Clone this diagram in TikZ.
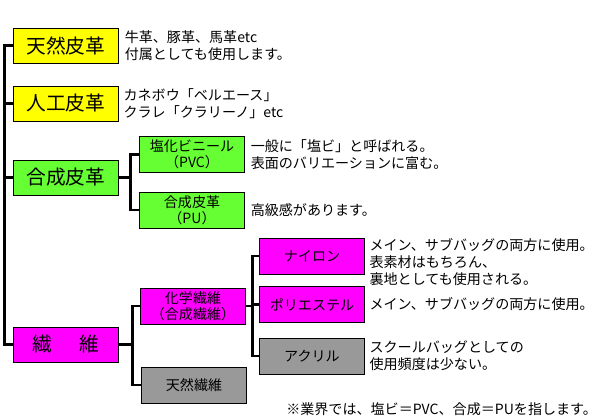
\documentclass[tikz,border=0pt]{standalone}
\usepackage{fontspec}
\setmainfont{Noto Sans CJK JP}
\usetikzlibrary{positioning}
\definecolor{natyellow}{HTML}{FFFF00}
\definecolor{synthgreen}{HTML}{66FF33}
\definecolor{fibermagenta}{HTML}{FF00FF}
\definecolor{othergray}{HTML}{999999}
\begin{document}
\begin{tikzpicture}[
  x=0.025cm, y=-0.025cm,
  every node/.style={inner sep=0pt},
  box/.style={draw, line width=0.7pt, minimum width=2.6cm, minimum height=0.9cm,
    align=center, font=\fontsize{10}{11.5}\selectfont},
  bigbox/.style={box, minimum height=0.875cm, font=\fontsize{14}{16}\selectfont},
  yellow/.style={fill=natyellow},
  green/.style={fill=synthgreen},
  magenta/.style={fill=fibermagenta},
  gray/.style={fill=othergray},
  desc/.style={align=left, font=\fontsize{10}{12}\selectfont},
  bus/.style={line width=2pt}
]
\useasboundingbox (0,0) rectangle (600,420);

% first level
\node[bigbox, yellow] (tennen) at (66,45.5) {天然皮革};
\node[bigbox, yellow] (jinko) at (66,103.5) {人工皮革};
\node[bigbox, green] (gosei) at (66,177.5) {合成皮革};
\node[bigbox, magenta] (sen) at (66,344.5) {繊\hspace{1.4em}維};

% second level
\node[box, green] (pvc) at (192,154.5) {塩化ビニール\\（PVC）};
\node[box, green] (pu) at (192,210) {合成皮革\\（PU）};
\node[box, magenta] (kagaku) at (193,306) {化学繊維\\（合成繊維）};
\node[box, gray] (tennensen) at (194,385) {天然繊維};

% third level
\node[box, magenta] (nylon) at (312,256) {ナイロン};
\node[box, magenta] (poly) at (312,304.5) {ポリエステル};
\node[box, gray] (acryl) at (312,356) {アクリル};

% notes
\node[desc, right=0.15cm of tennen] (tennen-txt) {牛革、豚革、馬革etc\\付属としても使用します。};
\node[desc, right=0.12cm of jinko] (jinko-txt) {カネボウ「ベルエース」\\クラレ「クラリーノ」etc};
\node[desc, right=0.15cm of pvc] (pvc-txt) {一般に「塩ビ」と呼ばれる。\\表面のバリエーションに富む。};
\node[desc, right=0.15cm of pu] (pu-txt) {高級感があります。};
\node[desc, right=0.12cm of nylon, yshift=-0.15cm] (nylon-txt) {メイン、サブバッグの両方に使用。\\表素材はもちろん、\\裏地としても使用される。};
\node[desc, right=0.12cm of poly] (poly-txt) {メイン、サブバッグの両方に使用。};
\node[desc, right=0.12cm of acryl] (acryl-txt) {スクールバッグとしての\\使用頻度は少ない。};
\node[desc, anchor=west] (footnote) at (286,409) {※業界では、塩ビ＝PVC、合成＝PUを指します。};

% connectors
\draw[bus] (tennen.west) -- ++(-9,0) |- (sen.west);
\draw[bus] (jinko.west) -- ++(-9,0);
\draw[bus] (gosei.west) -- ++(-9,0);
\draw[bus] (gosei.east) -- ++(12,0) |- (pvc.west);
\draw[bus] (gosei.east) -- ++(12,0) |- (pu.west);
\draw[bus] (sen.east) -- ++(14,0) |- (kagaku.west);
\draw[bus] (sen.east) -- ++(14,0) |- (tennensen.west);
\draw[bus] (kagaku.east) -- ++(7,0) |- (nylon.west);
\draw[bus] (kagaku.east) -- ++(7,0) |- (poly.west);
\draw[bus] (kagaku.east) -- ++(7,0) |- (acryl.west);
\end{tikzpicture}
\end{document}
